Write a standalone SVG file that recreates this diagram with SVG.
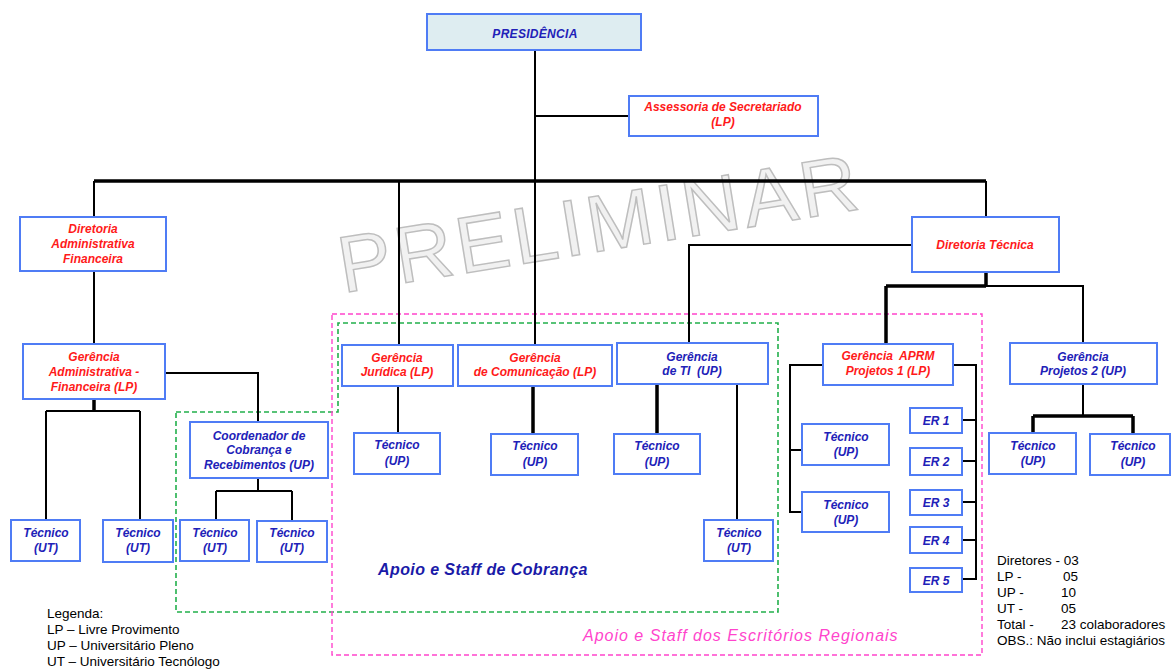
<svg xmlns="http://www.w3.org/2000/svg" width="1172" height="669" viewBox="0 0 1172 669">
<style>
.box{fill:#fff;stroke:#4f7cf5;stroke-width:2}
.pres{fill:#deedf1;stroke:#4f7cf5;stroke-width:2}
text{font-family:"Liberation Sans",Arial,sans-serif}
.t{font-size:12px;font-weight:bold;font-style:italic;text-anchor:middle}
.r{fill:#ff1a1a}
.b{fill:#2121b8}
.ln{fill:none;stroke:#000;stroke-width:2}
.lt{fill:none;stroke:#000;stroke-width:3.5}
.leg{font-size:13.5px;fill:#000}
.wm{font-size:80px;fill:#f1f1f1;stroke:#bebebe;stroke-width:1.5;letter-spacing:4px}
</style>
<rect width="1172" height="669" fill="#fff"/>
<text class="wm" transform="translate(343,293) rotate(-9.2)">PRELIMINAR</text>
<g id="groups">
<polygon points="176,412 338,412 338,323 778,323 778,612 176,612" fill="none" stroke="#22b04b" stroke-width="1.6" stroke-dasharray="5,3"/>
<rect x="332" y="314" width="650" height="341" fill="none" stroke="#ff44cc" stroke-width="1.4" stroke-dasharray="5,3"/>
<text x="378" y="575" font-size="16" font-weight="bold" font-style="italic" fill="#1a1aa8" letter-spacing="0.4">Apoio e Staff de Cobrança</text>
<text x="583" y="641" font-size="16" font-style="italic" fill="#ff44cc" letter-spacing="1">Apoio e Staff dos Escritórios Regionais</text>
</g>
<g id="connectors">
<path class="ln" d="M535,50V344M535,116H629"/>
<path class="lt" d="M94,181H986"/>
<path class="ln" d="M94,181V217M986,181V217M399,181V344"/>
<path class="ln" d="M94,271V344"/>
<path class="ln" d="M165,373H258V422"/>
<path class="lt" d="M94,399V411"/>
<path class="ln" d="M46,411H140M46,411V520M140,411V520"/>
<path class="ln" d="M258,478V491M216,491H292M216,491V520M292,491V520"/>
<path class="ln" d="M398,386V433"/>
<path class="lt" d="M533,386V434M657,384V434"/>
<path class="ln" d="M737,384V520"/>
<path class="ln" d="M912,245H689V343"/>
<path class="lt" d="M986,272V286M886,286H986M886,286V344"/>
<path class="ln" d="M986,286H1083V344"/>
<path class="ln" d="M1083,384V416"/>
<path class="lt" d="M1033,416H1133M1033,416V433M1133,416V434"/>
<path class="ln" d="M823,365H790V512H802M790,450H802"/>
<path class="ln" d="M953,365H976V579H962M962,420H976M962,461H976M962,502H976M962,540H976"/>
</g>
<g id="presidencia"><rect class="pres" x="427" y="14" width="214" height="36"/><text class="t b" x="535" y="38" font-size="14" letter-spacing="0.3">PRESIDÊNCIA</text></g>
<g id="assessoria"><rect class="box" x="629" y="96" width="189" height="40"/><text class="t r" x="723" y="111">Assessoria de Secretariado</text><text class="t r" x="723" y="126">(LP)</text></g>
<g id="dir-adm"><rect class="box" x="20" y="217" width="146" height="54"/><text class="t r" x="93" y="233">Diretoria</text><text class="t r" x="93" y="248">Administrativa</text><text class="t r" x="93" y="263">Financeira</text></g>
<g id="dir-tec"><rect class="box" x="912" y="217" width="147" height="55"/><text class="t r" x="985" y="249">Diretoria Técnica</text></g>
<g id="ger-adm"><rect class="box" x="23" y="344" width="142" height="55"/><text class="t r" x="94" y="361">Gerência</text><text class="t r" x="94" y="376">Administrativa -</text><text class="t r" x="94" y="391">Financeira (LP)</text></g>
<g id="tec-ut-1"><rect class="box" x="11" y="520" width="69" height="41"/><text class="t b" x="46" y="537">Técnico</text><text class="t b" x="46" y="552">(UT)</text></g>
<g id="tec-ut-2"><rect class="box" x="103" y="520" width="70" height="42"/><text class="t b" x="138" y="537">Técnico</text><text class="t b" x="138" y="552">(UT)</text></g>
<g id="coord"><rect class="box" x="190" y="422" width="138" height="56"/><text class="t b" x="259" y="440">Coordenador de</text><text class="t b" x="259" y="454">Cobrança e</text><text class="t b" x="259" y="469">Recebimentos (UP)</text></g>
<g id="tec-ut-3"><rect class="box" x="180" y="520" width="69" height="41"/><text class="t b" x="215" y="537">Técnico</text><text class="t b" x="215" y="552">(UT)</text></g>
<g id="tec-ut-4"><rect class="box" x="257" y="521" width="70" height="41"/><text class="t b" x="292" y="537">Técnico</text><text class="t b" x="292" y="552">(UT)</text></g>
<g id="ger-jur"><rect class="box" x="342" y="345" width="111" height="41"/><text class="t r" x="397" y="362">Gerência</text><text class="t r" x="397" y="376">Jurídica (LP)</text></g>
<g id="ger-com"><rect class="box" x="458" y="345" width="154" height="41"/><text class="t r" x="535" y="362">Gerência</text><text class="t r" x="535" y="376">de Comunicação (LP)</text></g>
<g id="ger-ti"><rect class="box" x="617" y="343" width="151" height="41"/><text class="t b" x="692" y="361">Gerência</text><text class="t b" x="692" y="375" xml:space="preserve">de TI  (UP)</text></g>
<g id="tec-jur"><rect class="box" x="354" y="433" width="86" height="41"/><text class="t b" x="397" y="449">Técnico</text><text class="t b" x="397" y="465">(UP)</text></g>
<g id="tec-com"><rect class="box" x="491" y="434" width="87" height="41"/><text class="t b" x="535" y="450">Técnico</text><text class="t b" x="535" y="466">(UP)</text></g>
<g id="tec-ti"><rect class="box" x="614" y="434" width="86" height="40"/><text class="t b" x="657" y="450">Técnico</text><text class="t b" x="657" y="466">(UP)</text></g>
<g id="tec-ti-ut"><rect class="box" x="704" y="520" width="69" height="41"/><text class="t b" x="739" y="537">Técnico</text><text class="t b" x="739" y="552">(UT)</text></g>
<g id="ger-aprm"><rect class="box" x="823" y="344" width="130" height="41"/><text class="t r" x="888" y="360" xml:space="preserve">Gerência  APRM</text><text class="t r" x="888" y="375">Projetos 1 (LP)</text></g>
<g id="ger-proj2"><rect class="box" x="1010" y="343" width="147" height="41"/><text class="t b" x="1083" y="361">Gerência</text><text class="t b" x="1083" y="375">Projetos 2 (UP)</text></g>
<g id="tec-aprm-1"><rect class="box" x="802" y="424" width="87" height="41"/><text class="t b" x="846" y="441">Técnico</text><text class="t b" x="846" y="456">(UP)</text></g>
<g id="tec-aprm-2"><rect class="box" x="802" y="492" width="87" height="40"/><text class="t b" x="846" y="509">Técnico</text><text class="t b" x="846" y="524">(UP)</text></g>
<g id="er1"><rect class="box" x="910" y="408" width="52" height="25"/><text class="t b" x="936" y="425">ER 1</text></g>
<g id="er2"><rect class="box" x="910" y="448" width="52" height="27"/><text class="t b" x="936" y="466">ER 2</text></g>
<g id="er3"><rect class="box" x="910" y="490" width="52" height="25"/><text class="t b" x="936" y="507">ER 3</text></g>
<g id="er4"><rect class="box" x="910" y="527" width="52" height="26"/><text class="t b" x="936" y="545">ER 4</text></g>
<g id="er5"><rect class="box" x="910" y="568" width="52" height="24"/><text class="t b" x="936" y="585">ER 5</text></g>
<g id="tec-p2-1"><rect class="box" x="989" y="433" width="87" height="41"/><text class="t b" x="1033" y="450">Técnico</text><text class="t b" x="1033" y="465">(UP)</text></g>
<g id="tec-p2-2"><rect class="box" x="1090" y="434" width="80" height="41"/><text class="t b" x="1133" y="450">Técnico</text><text class="t b" x="1133" y="466">(UP)</text></g>
<g id="legenda">
<text class="leg" x="47" y="618">Legenda:</text>
<text class="leg" x="47" y="634">LP – Livre Provimento</text>
<text class="leg" x="47" y="650">UP – Universitário Pleno</text>
<text class="leg" x="47" y="666">UT – Universitário Tecnólogo</text>
</g>
<g id="resumo">
<text class="leg" x="997" y="565">Diretores - 03</text>
<text class="leg" x="997" y="581">LP -</text><text class="leg" x="1063" y="581">05</text>
<text class="leg" x="997" y="597">UP -</text><text class="leg" x="1061" y="597">10</text>
<text class="leg" x="997" y="613">UT -</text><text class="leg" x="1061" y="613">05</text>
<text class="leg" x="997" y="629">Total -</text><text class="leg" x="1061" y="629">23 colaboradores</text>
<text class="leg" x="997" y="645">OBS.: Não inclui estagiários</text>
</g>
</svg>
